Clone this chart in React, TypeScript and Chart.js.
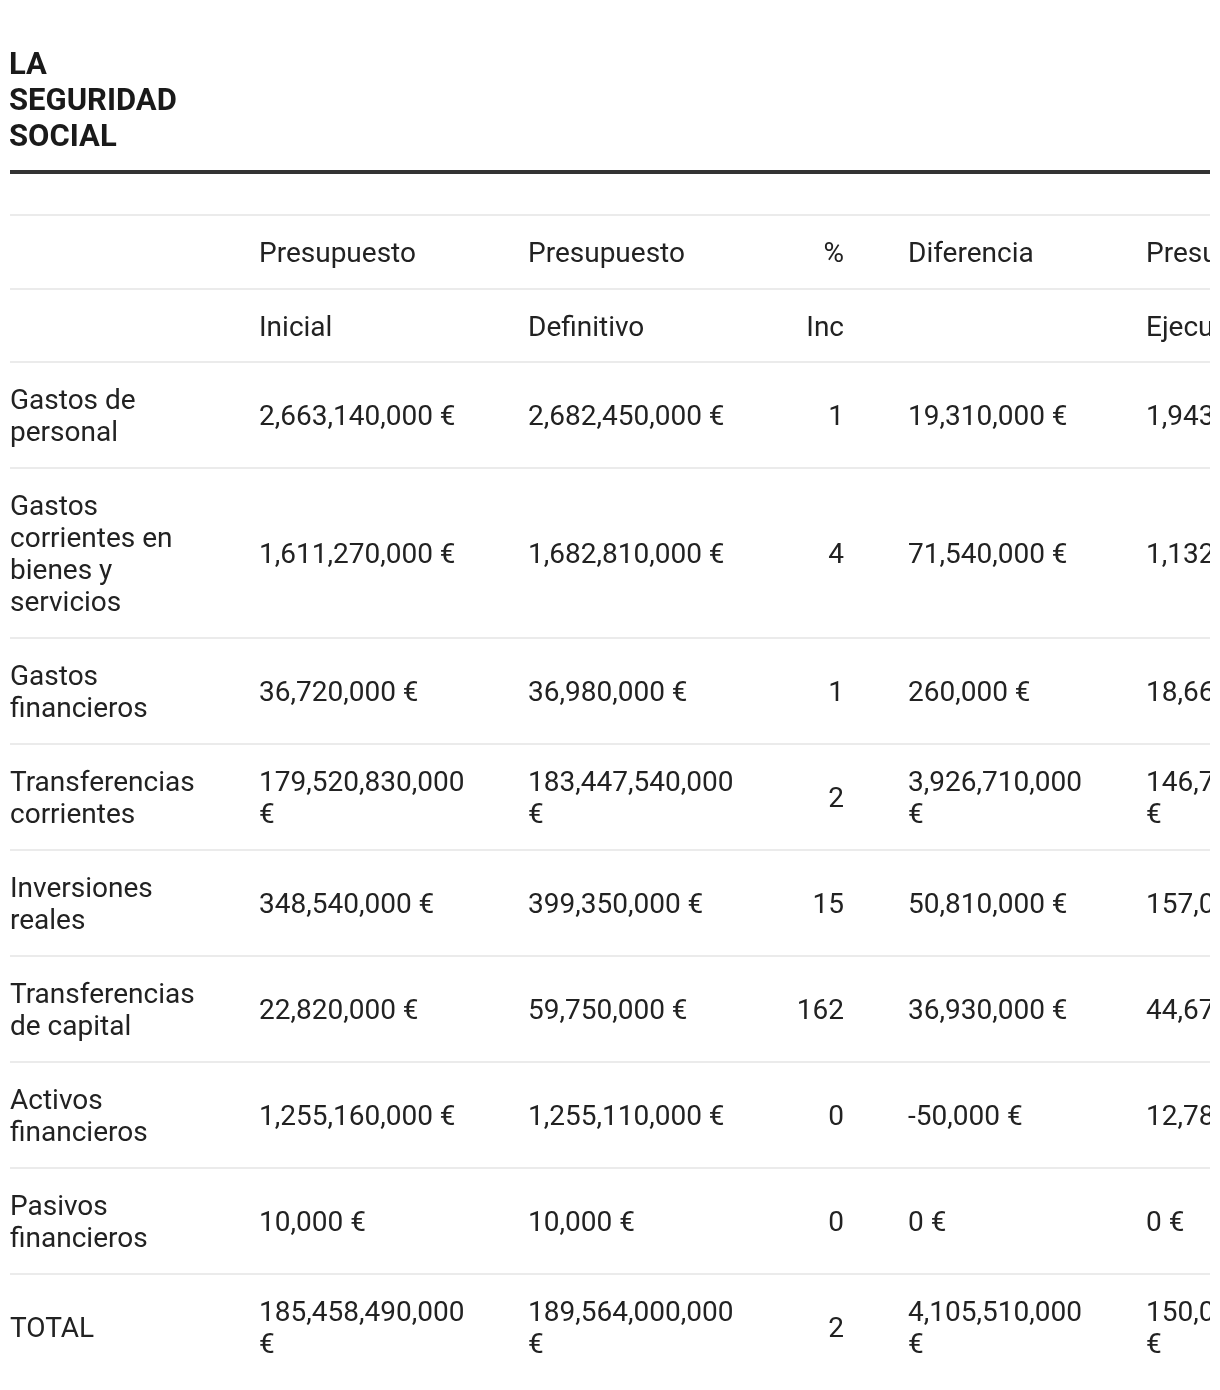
import React, { useEffect, useRef } from "react";
import { Chart, registerables } from "chart.js";

Chart.register(...registerables);

const TITLE = "LA SEGURIDAD SOCIAL";

const HEADER_TOP = ["", "Presupuesto", "Presupuesto", "%", "Diferencia", "Presupuesto"];
const HEADER_BOTTOM = ["", "Inicial", "Definitivo", "Inc", "", "Ejecutado"];

const categories = [
  "Gastos de personal",
  "Gastos corrientes en bienes y servicios",
  "Gastos financieros",
  "Transferencias corrientes",
  "Inversiones reales",
  "Transferencias de capital",
  "Activos financieros",
  "Pasivos financieros",
  "TOTAL",
];

const presupuestoInicial = [
  2663140000, 1611270000, 36720000, 179520830000, 348540000, 22820000, 1255160000, 10000, 185458490000,
];
const presupuestoDefinitivo = [
  2682450000, 1682810000, 36980000, 183447540000, 399350000, 59750000, 1255110000, 10000, 189564000000,
];
const porcentajeInc = [1, 4, 1, 2, 15, 162, 0, 0, 2];
const diferencia = [
  19310000, 71540000, 260000, 3926710000, 50810000, 36930000, -50000, 0, 4105510000,
];
const presupuestoEjecutado = [
  1943520000, 1132480000, 18660000, 146720350000, 157040000, 44670000, 12780000, 0, 150010000000,
];

const FONT = "Roboto, 'Noto Sans', sans-serif";
const BODY_SIZE = 28;
const LINE_H = 32;
const PAD_V = 21;
const TEXT_COLOR = "#222222";
const RULE_COLOR = "#ebebeb";

type Col = { x: number; maxW: number; align: "left" | "right" };
const COLS: Col[] = [
  { x: 10, maxW: 205, align: "left" },
  { x: 259, maxW: 220, align: "left" },
  { x: 528, maxW: 220, align: "left" },
  { x: 844, maxW: 80, align: "right" },
  { x: 908, maxW: 190, align: "left" },
  { x: 1146, maxW: 220, align: "left" },
];

const euro = (v: number) => v.toLocaleString("en-US") + " €";

function wrap(ctx: CanvasRenderingContext2D, text: string, maxW: number): string[] {
  if (!text) return [""];
  const words = text.split(" ");
  const lines: string[] = [];
  let cur = "";
  for (const w of words) {
    const test = cur ? cur + " " + w : w;
    if (cur && ctx.measureText(test).width > maxW) {
      lines.push(cur);
      cur = w;
    } else {
      cur = test;
    }
  }
  if (cur) lines.push(cur);
  return lines;
}

const tablePlugin = {
  id: "tablePlugin",
  afterDraw(chart: any) {
    const ctx: CanvasRenderingContext2D = chart.ctx;
    const W = chart.width;
    const right = 1210;
    ctx.save();
    ctx.fillStyle = "#ffffff";
    ctx.fillRect(0, 0, W, chart.height);
    ctx.beginPath();
    ctx.rect(0, 0, right, chart.height);
    ctx.clip();

    // title
    ctx.font = `bold 31px ${FONT}`;
    ctx.fillStyle = "#1a1a1a";
    ctx.textBaseline = "alphabetic";
    ctx.textAlign = "left";
    const titleLines = wrap(ctx, TITLE, 200);
    titleLines.forEach((l, i) => ctx.fillText(l, 9, 74 + i * 36));

    // thick rule
    ctx.fillStyle = "#333333";
    ctx.fillRect(10, 170, right - 10, 4);

    ctx.font = `${BODY_SIZE}px ${FONT}`;
    const rows: string[][] = [HEADER_TOP, HEADER_BOTTOM];
    categories.forEach((c, i) => {
      rows.push([
        c,
        euro(presupuestoInicial[i]),
        euro(presupuestoDefinitivo[i]),
        String(porcentajeInc[i]),
        euro(diferencia[i]),
        euro(presupuestoEjecutado[i]),
      ]);
    });

    let y = 215;
    rows.forEach((row, ri) => {
      const cellLines = row.map((t, ci) => wrap(ctx, t, COLS[ci].maxW));
      const n = Math.max(...cellLines.map((l) => l.length));
      const h = n * LINE_H + 2 * PAD_V;
      ctx.fillStyle = RULE_COLOR;
      ctx.fillRect(10, y - 1, right - 10, 2);
      const mid = y + h / 2;
      ctx.fillStyle = TEXT_COLOR;
      ctx.textBaseline = "middle";
      cellLines.forEach((lines, ci) => {
        const col = COLS[ci];
        ctx.textAlign = col.align;
        const start = mid - ((lines.length - 1) * LINE_H) / 2;
        lines.forEach((l, li) => ctx.fillText(l, col.x, start + li * LINE_H + 3));
      });
      y += ri === 1 ? h - 1 : h;
    });
    ctx.restore();
  },
};

export default function App() {
  const ref = useRef<HTMLCanvasElement | null>(null);
  useEffect(() => {
    if (!ref.current) return;
    const chart = new Chart(ref.current, {
      type: "bar",
      data: {
        labels: categories,
        datasets: [
          {
            label: "Presupuesto Inicial",
            data: presupuestoInicial,
            backgroundColor: "rgba(0,0,0,0)",
          },
        ],
      },
      options: {
        animation: false,
        responsive: false,
        devicePixelRatio: 1,
        events: [],
        layout: { padding: 0 },
        scales: { x: { display: false }, y: { display: false } },
        plugins: { legend: { display: false }, tooltip: { enabled: false }, title: { display: false } },
      },
      plugins: [tablePlugin],
    });
    return () => chart.destroy();
  }, []);
  return (
    <div style={{ position: "absolute", left: 0, top: 0, width: 1220, height: 1390, background: "#fff" }}>
      <canvas ref={ref} width={1220} height={1390} style={{ display: "block", width: 1220, height: 1390 }} />
    </div>
  );
}
